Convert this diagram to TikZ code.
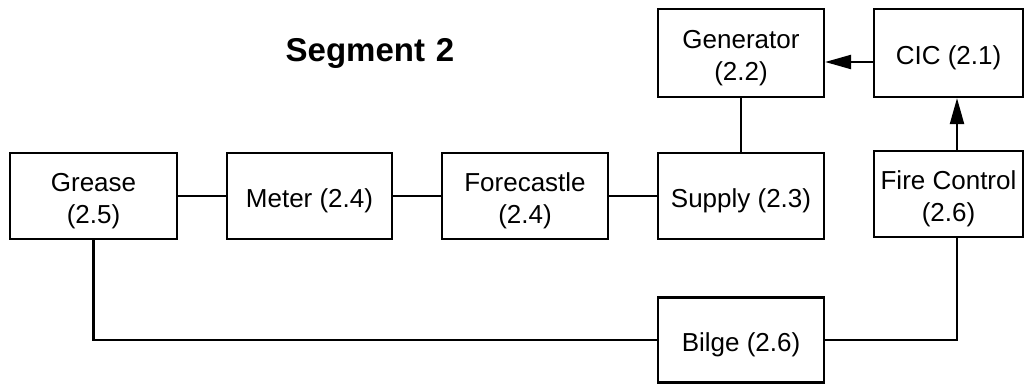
\documentclass[tikz,border=0pt]{standalone}
\usepackage{fontspec}
\setmainfont{Liberation Sans}
\usetikzlibrary{arrows.meta}
\newcommand{\lowtxt}[1]{\raisebox{-5pt}[\height][\depth]{\begin{tabular}{@{}c@{}}#1\end{tabular}}}
\begin{document}
\begin{tikzpicture}[x=1pt,y=-1pt,
  box/.style={draw,line width=2.2pt,inner sep=0pt,align=center,
    font=\fontsize{26}{32}\selectfont},
  conn/.style={line width=2.2pt},
  arr/.style={line width=2.2pt,-{Triangle[length=26pt,width=14pt]}}]
\useasboundingbox (0,0) rectangle (1032,385);
\node[font=\bfseries\fontsize{33}{36}\selectfont] (title) at (370,53) {Segment\,\,2};
\node[box,minimum width=167pt,minimum height=86pt] (grease) at (93.5,196) {\lowtxt{Grease\\(2.5)}};
\node[box,minimum width=165pt,minimum height=86pt] (meter) at (309.5,196) {\lowtxt{Meter (2.4)}};
\node[box,minimum width=166pt,minimum height=86pt] (fore) at (525,196) {\lowtxt{Forecastle\\(2.4)}};
\node[box,minimum width=166pt,minimum height=86pt] (supply) at (741,196) {\lowtxt{Supply (2.3)}};
\node[box,minimum width=149pt,minimum height=86pt] (fire) at (948.5,194) {\lowtxt{Fire Control\\(2.6)}};
\node[box,minimum width=166pt,minimum height=88pt] (gen) at (741,53) {\lowtxt{Generator\\(2.2)}};
\node[box,minimum width=149pt,minimum height=88pt] (cic) at (948.5,53) {\lowtxt{CIC (2.1)}};
\node[box,minimum width=166pt,minimum height=85pt] (bilge) at (741,340) {\lowtxt{Bilge (2.6)}};
\draw[conn] (grease.east) -- (meter.west);
\draw[conn] (meter.east) -- (fore.west);
\draw[conn] (fore.east) -- (supply.west);
\draw[conn] (gen.south) -- (supply.north);
\draw[arr] ([yshift=-9pt]cic.west) -- ([yshift=-9pt]gen.east);
\draw[arr] ([xshift=8.5pt]fire.north) -- ([xshift=8.5pt]cic.south);
\draw[conn] (grease.south) |- (bilge.west);
\draw[conn] (bilge.east) -| ([xshift=8.5pt]fire.south);
\end{tikzpicture}
\end{document}
